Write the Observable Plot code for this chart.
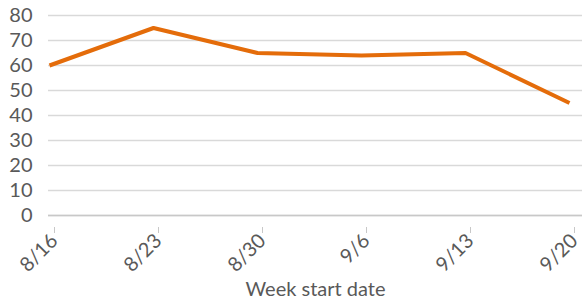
<!DOCTYPE html>
<html>
<head>
<meta charset="utf-8">
<script src="https://cdn.jsdelivr.net/npm/d3@7"></script>
<script src="https://cdn.jsdelivr.net/npm/@observablehq/plot@0.6"></script>
<style>
  html, body { margin: 0; padding: 0; background: #fff; }
  #chart svg { display: block; }
</style>
</head>
<body>
<div id="chart"></div>
<script>
// Data
const weekStarts = ["2021-08-16", "2021-08-23", "2021-08-30", "2021-09-06", "2021-09-13", "2021-09-20"];
const values = [60, 75, 65, 64, 65, 45];
const yTicks = [0, 10, 20, 30, 40, 50, 60, 70, 80];
const xLabel = "Week start date";

const dates = weekStarts.map(s => new Date(s + "T00:00:00Z"));
const data = dates.map((d, i) => ({date: d, value: values[i]}));
const fmt = d3.utcFormat("%-m/%-d");

const chart = Plot.plot({
  width: 582,
  height: 300,
  marginLeft: 48,
  marginRight: 0,
  marginTop: 15,
  marginBottom: 85,
  style: {fontFamily: "Lato, 'Liberation Sans', Arial, sans-serif", fontSize: "20px", color: "#595959", background: "#fff"},
  x: {type: "utc", domain: [dates[0], dates[dates.length - 1]], insetLeft: 1, insetRight: 13},
  y: {domain: [0, 80]},
  marks: [
    Plot.gridY(yTicks, {stroke: "#d9d9d9", strokeOpacity: 1, strokeWidth: 1.5}),
    Plot.ruleY([0], {stroke: "#c8c8c8", strokeWidth: 1.5}),
    Plot.axisY(yTicks, {tickSize: 0, tickPadding: 16, fontSize: 20, label: null}),
    Plot.axisX(dates, {tickSize: 6, stroke: "#c8c8c8", tickRotate: -45, tickFormat: fmt, fontSize: 20, tickPadding: 4,
      dx: 5, dy: 12, label: null}),
    Plot.axisX({tickSize: 0, ticks: [], fontSize: 20, label: xLabel, labelAnchor: "center", labelOffset: 80, labelArrow: "none"}),
    Plot.line(data, {x: "date", y: "value", stroke: "#E46C0A", strokeWidth: 4, strokeLinejoin: "miter", strokeLinecap: "butt"})
  ]
});
document.getElementById("chart").appendChild(chart);
</script>
</body>
</html>
